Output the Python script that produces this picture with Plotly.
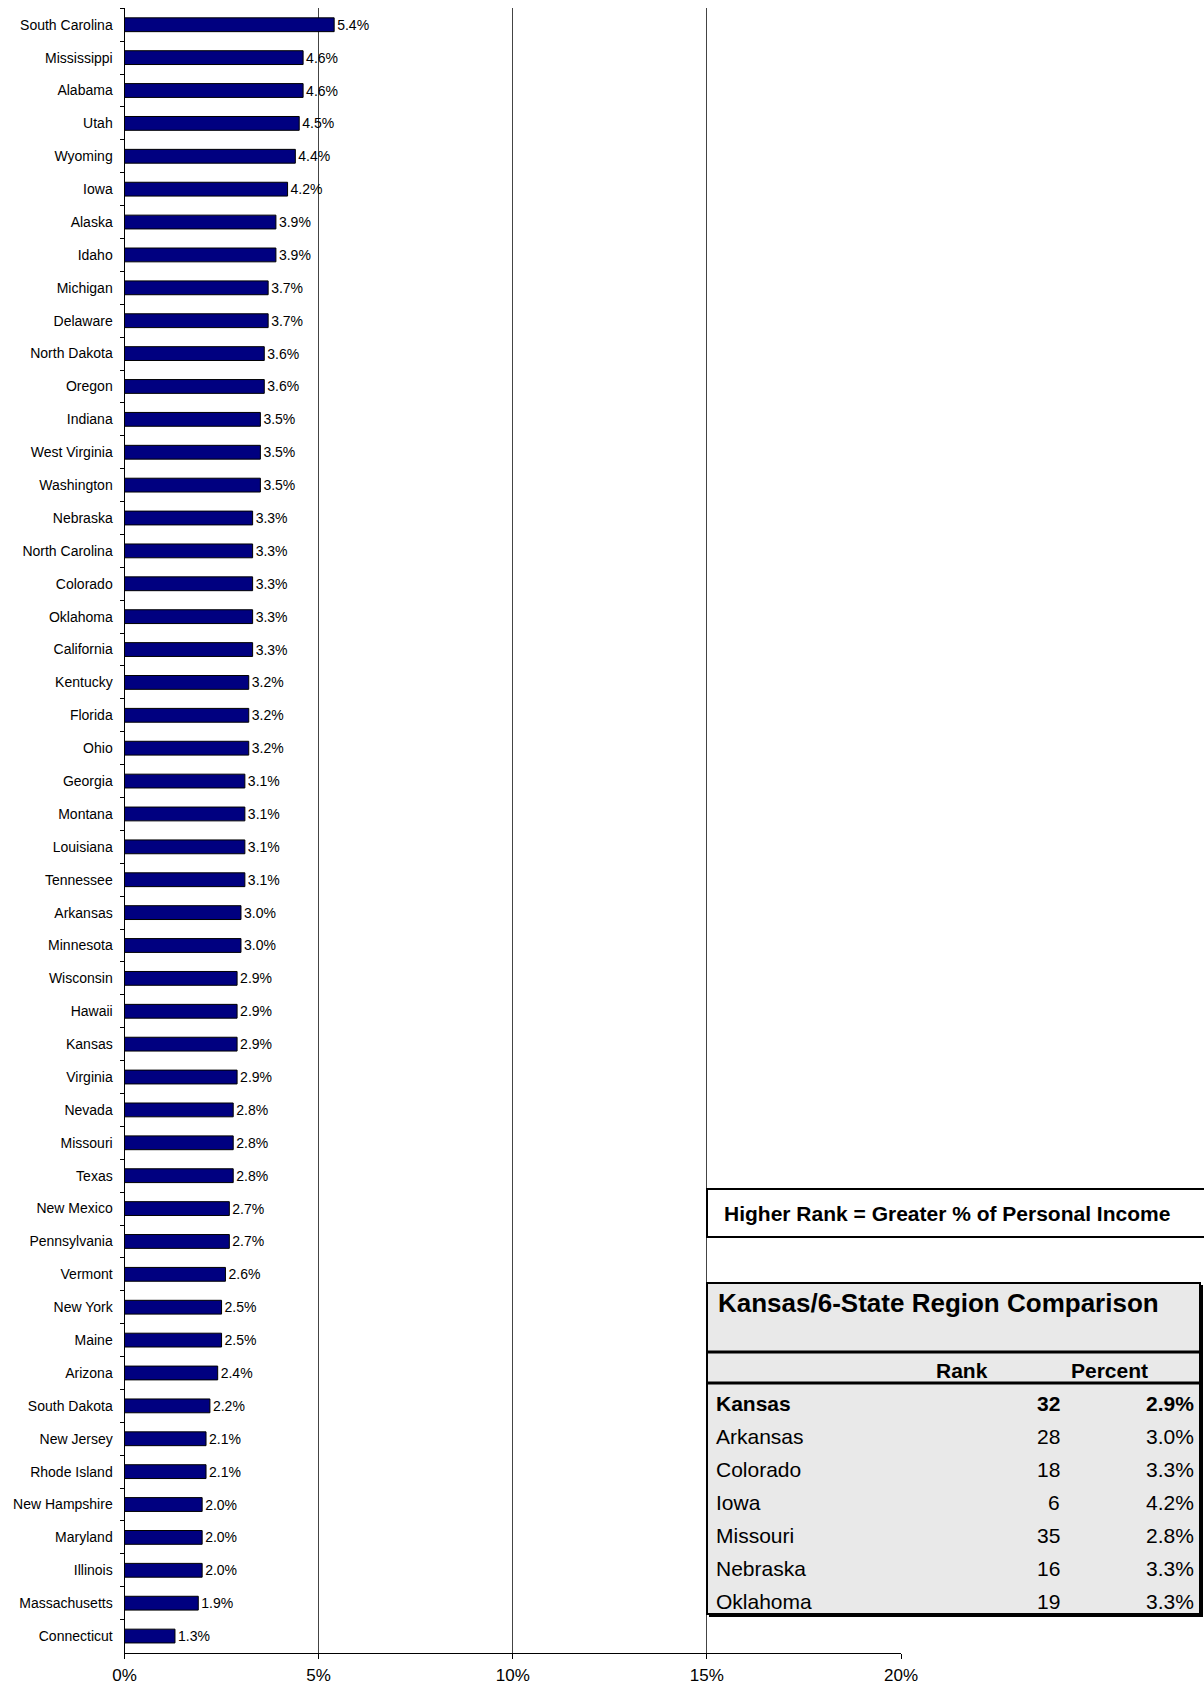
import plotly.graph_objects as go

# Share of personal income by state, ranked highest to lowest
states = [
    "South Carolina", "Mississippi", "Alabama", "Utah", "Wyoming", "Iowa",
    "Alaska", "Idaho", "Michigan", "Delaware", "North Dakota", "Oregon",
    "Indiana", "West Virginia", "Washington", "Nebraska", "North Carolina",
    "Colorado", "Oklahoma", "California", "Kentucky", "Florida", "Ohio",
    "Georgia", "Montana", "Louisiana", "Tennessee", "Arkansas", "Minnesota",
    "Wisconsin", "Hawaii", "Kansas", "Virginia", "Nevada", "Missouri", "Texas",
    "New Mexico", "Pennsylvania", "Vermont", "New York", "Maine", "Arizona",
    "South Dakota", "New Jersey", "Rhode Island", "New Hampshire", "Maryland",
    "Illinois", "Massachusetts", "Connecticut",
]
percents = [
    5.4, 4.6, 4.6, 4.5, 4.4, 4.2,
    3.9, 3.9, 3.7, 3.7, 3.6, 3.6,
    3.5, 3.5, 3.5, 3.3, 3.3,
    3.3, 3.3, 3.3, 3.2, 3.2, 3.2,
    3.1, 3.1, 3.1, 3.1, 3.0, 3.0,
    2.9, 2.9, 2.9, 2.9, 2.8, 2.8, 2.8,
    2.7, 2.7, 2.6, 2.5, 2.5, 2.4,
    2.2, 2.1, 2.1, 2.0, 2.0,
    2.0, 1.9, 1.3,
]
x_ticks = [0, 0.05, 0.10, 0.15, 0.20]
x_tick_labels = ["0%", "5%", "10%", "15%", "20%"]

# Regional comparison table
region_title = "Kansas/6-State Region Comparison"
region_header = ["Rank", "Percent"]
region_states = ["Kansas", "Arkansas", "Colorado", "Iowa", "Missouri", "Nebraska", "Oklahoma"]
region_ranks = [32, 28, 18, 6, 35, 16, 19]
region_pcts = [2.9, 3.0, 3.3, 4.2, 2.8, 3.3, 3.3]
note_text = "Higher Rank = Greater % of Personal Income"

W, H = 1204, 1686
FONT = "Arial, Liberation Sans, sans-serif"


def px(x):
    return x / W


def py(y):
    return 1 - y / H


fig = go.Figure()
fig.add_trace(go.Bar(
    x=[p / 100 for p in percents],
    y=states,
    orientation="h",
    marker=dict(color="#000080", line=dict(color="#000000", width=1)),
    text=[f"{p:.1f}%" for p in percents],
    textposition="outside",
    constraintext="none",
    textfont=dict(family=FONT, size=14, color="#000000"),
    cliponaxis=False,
    hoverinfo="skip",
))

shapes = []
annotations = []

# Note box (runs off the right edge)
shapes.append(dict(type="rect", xref="paper", yref="paper",
                   x0=px(707), x1=px(1215), y0=py(1237), y1=py(1189),
                   fillcolor="#ffffff", line=dict(color="#000000", width=2),
                   layer="above"))
annotations.append(dict(xref="paper", yref="paper", x=px(722), y=py(1213),
                        xanchor="left", yanchor="middle", showarrow=False,
                        text=f"<b>{note_text}</b>",
                        font=dict(family=FONT, size=21, color="#000000")))

# Table: drop shadow, panel, header rules
shapes.append(dict(type="rect", xref="paper", yref="paper",
                   x0=px(709), x1=px(1203), y0=py(1617), y1=py(1285),
                   fillcolor="#000000", line=dict(width=0), layer="above"))
shapes.append(dict(type="rect", xref="paper", yref="paper",
                   x0=px(707), x1=px(1200), y0=py(1614), y1=py(1283),
                   fillcolor="#e9e9e9", line=dict(color="#000000", width=2),
                   layer="above"))
for yy in (1352, 1383):
    shapes.append(dict(type="line", xref="paper", yref="paper",
                       x0=px(707), x1=px(1200), y0=py(yy), y1=py(yy),
                       line=dict(color="#000000", width=3), layer="above"))

annotations.append(dict(xref="paper", yref="paper", x=px(716), y=py(1303),
                        xanchor="left", yanchor="middle", showarrow=False,
                        text=f"<b>{region_title}</b>",
                        font=dict(family=FONT, size=26, color="#000000")))
annotations.append(dict(xref="paper", yref="paper", x=px(962), y=py(1370),
                        xanchor="center", yanchor="middle", showarrow=False,
                        text=f"<b>{region_header[0]}</b>",
                        font=dict(family=FONT, size=21, color="#000000")))
annotations.append(dict(xref="paper", yref="paper", x=px(1109), y=py(1370),
                        xanchor="center", yanchor="middle", showarrow=False,
                        text=f"<b>{region_header[1]}</b>",
                        font=dict(family=FONT, size=21, color="#000000")))

for i, (st, rk, pc) in enumerate(zip(region_states, region_ranks, region_pcts)):
    yy = 1403 + 33 * i
    bold = st == "Kansas"
    wrap = (lambda s: f"<b>{s}</b>") if bold else (lambda s: s)
    f = dict(family=FONT, size=21, color="#000000")
    annotations.append(dict(xref="paper", yref="paper", x=px(714), y=py(yy),
                            xanchor="left", yanchor="middle", showarrow=False,
                            text=wrap(st), font=f))
    annotations.append(dict(xref="paper", yref="paper", x=px(1062), y=py(yy),
                            xanchor="right", yanchor="middle", showarrow=False,
                            text=wrap(str(rk)), font=f))
    annotations.append(dict(xref="paper", yref="paper", x=px(1196), y=py(yy),
                            xanchor="right", yanchor="middle", showarrow=False,
                            text=wrap(f"{pc:.1f}%"), font=f))

fig.update_layout(
    width=W, height=H,
    margin=dict(l=0, r=0, t=0, b=0),
    paper_bgcolor="#ffffff",
    plot_bgcolor="#ffffff",
    showlegend=False,
    bargap=0.58,
    font=dict(family=FONT, color="#000000"),
    xaxis=dict(
        domain=[px(124.5), px(901)],
        range=[0, 0.2],
        tickvals=x_ticks,
        ticktext=x_tick_labels,
        tickfont=dict(family=FONT, size=17, color="#000000"),
        ticks="outside", ticklen=5, tickcolor="#000000",
        ticklabelstandoff=2,
        showline=True, linecolor="#000000", linewidth=1,
        showgrid=True, gridcolor="#444444", gridwidth=1,
        zeroline=False, fixedrange=True, automargin=False,
    ),
    yaxis=dict(
        domain=[py(1652.5), py(8.3)],
        categoryorder="array", categoryarray=states,
        autorange="reversed",
        tickfont=dict(family=FONT, size=14, color="#000000"),
        ticks="outside", ticklen=4, tickcolor="#000000",
        tickson="boundaries",
        ticklabelstandoff=8,
        showline=True, linecolor="#000000", linewidth=1,
        showgrid=False, zeroline=False, fixedrange=True, automargin=False,
    ),
    shapes=shapes,
    annotations=annotations,
)

fig.write_html(
    "out.html",
    post_script="document.body.style.margin='0px';document.body.style.overflow='hidden';",
)
